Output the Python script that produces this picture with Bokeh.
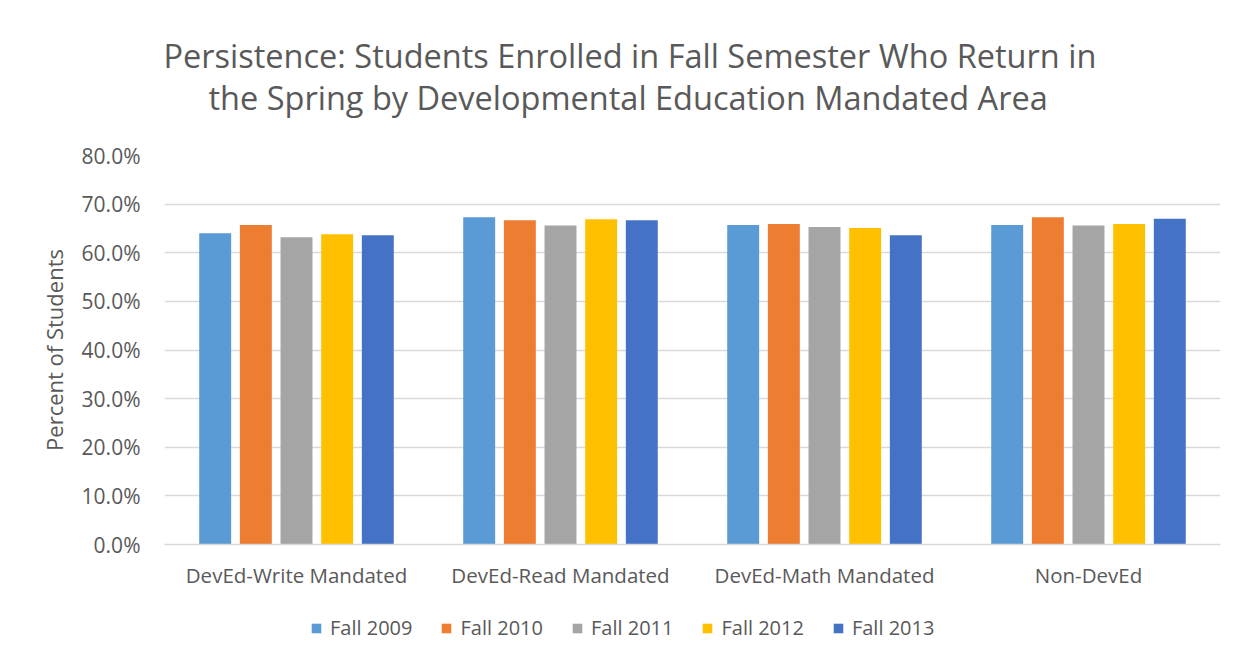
from bokeh.plotting import figure
from bokeh.layouts import column
from bokeh.models import (FactorRange, Range1d, ColumnDataSource, Title, Legend, LegendItem,
                          FixedTicker, NumeralTickFormatter)
from bokeh.transform import dodge
from bokeh.embed import file_html
from bokeh.resources import INLINE

categories = ["DevEd-Write Mandated", "DevEd-Read Mandated", "DevEd-Math Mandated", "Non-DevEd"]
series_names = ["Fall 2009", "Fall 2010", "Fall 2011", "Fall 2012", "Fall 2013"]
fall_2009 = [0.640, 0.673, 0.657, 0.657]
fall_2010 = [0.657, 0.667, 0.659, 0.673]
fall_2011 = [0.632, 0.656, 0.653, 0.656]
fall_2012 = [0.638, 0.669, 0.651, 0.659]
fall_2013 = [0.636, 0.667, 0.636, 0.670]
y_ticks = [0.0, 0.1, 0.2, 0.3, 0.4, 0.5, 0.6, 0.7, 0.8]
colors = ["#5B9BD5", "#ED7D31", "#A5A5A5", "#FFC000", "#4472C4"]

FONT = "Open Sans"
TXT = "#595959"

src = ColumnDataSource(dict(cat=categories, s0=fall_2009, s1=fall_2010, s2=fall_2011,
                            s3=fall_2012, s4=fall_2013))

p = figure(width=1230, height=606, x_range=FactorRange(*categories, range_padding=0),
           y_range=Range1d(0, 0.8), output_backend="svg", toolbar_location=None,
           min_border_left=164, min_border_right=10, min_border_top=155, min_border_bottom=62)
p.outline_line_color = None
p.background_fill_color = "white"
p.border_fill_color = "white"

step = 0.154
width = 0.121
for i, key in enumerate(["s0", "s1", "s2", "s3", "s4"]):
    p.vbar(x=dodge("cat", (i - 2) * step, range=p.x_range), top=key, width=width,
           source=src, fill_color=colors[i], line_color=None)

# axes
p.yaxis.ticker = FixedTicker(ticks=y_ticks)
p.yaxis.formatter = NumeralTickFormatter(format="0.0%")
p.yaxis.axis_line_color = None
p.yaxis.major_tick_line_color = None
p.yaxis.minor_tick_line_color = None
p.yaxis.major_tick_out = 0
p.yaxis.major_label_standoff = 24
p.yaxis.major_label_text_font = FONT
p.yaxis.major_label_text_font_size = "21px"
p.yaxis.major_label_text_color = TXT
p.yaxis.axis_label = "Percent of Students"
p.yaxis.axis_label_text_font = FONT
p.yaxis.axis_label_text_font_size = "22px"
p.yaxis.axis_label_text_font_style = "normal"
p.yaxis.axis_label_text_color = TXT
p.yaxis.axis_label_standoff = 10

p.xaxis.axis_line_color = "#D9D9D9"
p.xaxis.axis_line_width = 1.5
p.xaxis.major_tick_line_color = None
p.xaxis.minor_tick_line_color = None
p.xaxis.major_tick_out = 0
p.xaxis.major_label_standoff = 16
p.xaxis.major_label_text_font = FONT
p.xaxis.major_label_text_font_size = "20.5px"
p.xaxis.major_label_text_color = TXT

p.xgrid.grid_line_color = None
p.ygrid.grid_line_color = "#D9D9D9"
p.ygrid.grid_line_width = 1.5

# title (two lines; first added sits nearest the plot)
title_lines = ["Persistence: Students Enrolled in Fall Semester Who Return in",
               "the Spring by Developmental Education Mandated Area"]
p.add_layout(Title(text="\u00a0", text_font_size="10px", standoff=22), "above")
p.add_layout(Title(text=title_lines[1], align="left", offset=44, standoff=2,
                   text_font=FONT, text_font_size="32.5px", text_font_style="normal",
                   text_color=TXT), "above")
p.add_layout(Title(text=title_lines[0], align="left", offset=-1, standoff=-12,
                   text_font=FONT, text_font_size="32.5px", text_font_style="normal",
                   text_color=TXT), "above")

# legend strip below the chart
leg = figure(width=1230, height=50, x_range=Range1d(0, 1), y_range=Range1d(0, 1),
             output_backend="svg", toolbar_location=None, x_axis_location=None,
             y_axis_location=None, min_border=0)
leg.outline_line_color = None
leg.xgrid.visible = False
leg.ygrid.visible = False
# one off-range point each, so the legend swatches have something to draw from
leg_renderers = [leg.vbar(x=[-10], top=[0], width=0.1, fill_color=c, line_color=None)
                 for c in colors]
legend = Legend(items=[LegendItem(label=n, renderers=[r]) for n, r in zip(series_names, leg_renderers)],
                orientation="horizontal", location=(146, 15), border_line_color=None,
                background_fill_alpha=0, padding=5, margin=0, spacing=28,
                glyph_width=12, glyph_height=12, label_standoff=8,
                label_text_font=FONT, label_text_font_size="20px", label_text_color=TXT)
leg.add_layout(legend, "center")

layout = column(p, leg, spacing=0)
open("out.html", "w").write(file_html(layout, INLINE))
